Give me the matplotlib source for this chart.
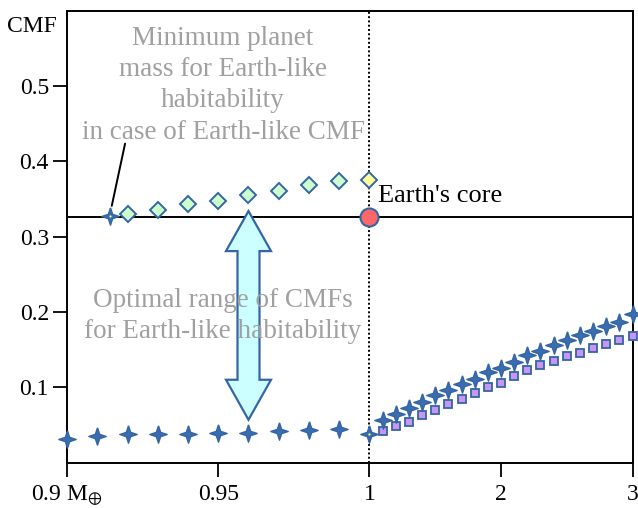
import numpy as np
import matplotlib
matplotlib.use("Agg")
import matplotlib.pyplot as plt
from matplotlib.patches import Polygon
from matplotlib.transforms import IdentityTransform

plt.rcParams['font.family'] = ['Liberation Serif', 'DejaVu Serif']
plt.rcParams['mathtext.fontset'] = 'stix'

# ---------------- data ----------------
low_mass = [0.90, 0.91, 0.92, 0.93, 0.94, 0.95, 0.96, 0.97, 0.98, 0.99, 1.00]
low_star_cmf = [0.031, 0.036, 0.038, 0.038, 0.038, 0.039, 0.040, 0.042, 0.043, 0.045, 0.038]

diamond_mass = [0.92, 0.93, 0.94, 0.95, 0.96, 0.97, 0.98, 0.99]
diamond_cmf = [0.330, 0.336, 0.343, 0.348, 0.355, 0.361, 0.368, 0.374]
earth_diamond_mass = [1.00]
earth_diamond_cmf = [0.375]

min_mass_point = [0.9142]
min_mass_cmf = [0.327]

high_mass = [1.1, 1.2, 1.3, 1.4, 1.5, 1.6, 1.7, 1.8, 1.9, 2.0,
             2.1, 2.2, 2.3, 2.4, 2.5, 2.6, 2.7, 2.8, 2.9, 3.0]
high_star_cmf = [0.057, 0.065, 0.073, 0.081, 0.090, 0.097, 0.104, 0.111, 0.121, 0.126,
                 0.134, 0.143, 0.148, 0.156, 0.163, 0.169, 0.175, 0.181, 0.187, 0.197]
high_square_cmf = [0.042, 0.049, 0.054, 0.063, 0.070, 0.078, 0.085, 0.093, 0.100, 0.106,
                   0.115, 0.123, 0.130, 0.135, 0.141, 0.146, 0.152, 0.157, 0.163, 0.168]

earth_mass = 1.0
earth_core_cmf = 0.326

arrow_mass = 0.96
arrow_top = 0.334
arrow_bottom = 0.057

xticks = [0.9, 0.95, 1, 2, 3]
xticklabels = ['0.9 M$_{\\oplus}$', '0.95', '1', '2', '3']
yticks = [0.1, 0.2, 0.3, 0.4, 0.5]
yticklabels = ['0.1', '0.2', '0.3', '0.4', '0.5']

# ---------------- styling ----------------
BLUE = '#3465a4'
STAR_FILL = '#3a6cb0'
GRAY = '#a0a0a0'

W, H = 638, 508
fig = plt.figure(figsize=(W / 100, H / 100), dpi=100)
ax = fig.add_axes([67 / W, 1 - 462.7 / H, (632.5 - 67) / W, (462.7 - 10.7) / H])

L_SEG, R_SEG = 302.5, 131.5


def fwd(x):
    x = np.asarray(x, dtype=float)
    return np.where(x <= 1, (x - 0.9) / 0.1 * L_SEG, L_SEG + (x - 1) * R_SEG)


def inv(u):
    u = np.asarray(u, dtype=float)
    return np.where(u <= L_SEG, 0.9 + u / L_SEG * 0.1, 1 + (u - L_SEG) / R_SEG)


ax.set_xscale('function', functions=(fwd, inv))
ax.set_xlim(0.9, 3)
ax.set_ylim(0, 0.6)

r = 0.25
star = [(0, 1), (r, r), (1, 0), (r, -r), (0, -1), (-r, -r), (-1, 0), (-r, r), (0, 1)]

# reference lines
ax.axhline(earth_core_cmf, color='black', lw=1.4, zorder=2)
ax.axvline(earth_mass, color='black', lw=1.4, ls=(0, (1, 1.2)), zorder=2)

# arrow (built after limits are fixed)
fig.canvas.draw()
xc, yt = ax.transData.transform((arrow_mass, arrow_top))
_, yb = ax.transData.transform((arrow_mass, arrow_bottom))
hw, sw, hl = 22.5, 11, 40
verts = [(xc, yt), (xc + hw, yt - hl), (xc + sw, yt - hl), (xc + sw, yb + hl), (xc + hw, yb + hl),
         (xc, yb), (xc - hw, yb + hl), (xc - sw, yb + hl), (xc - sw, yt - hl), (xc - hw, yt - hl)]
arr = Polygon(verts, closed=True, facecolor='#ccffff', edgecolor=BLUE, lw=1.6,
              transform=IdentityTransform(), zorder=3, clip_on=False)
ax.add_artist(arr)

# markers
ax.plot(low_mass, low_star_cmf, ls='none', marker=star, ms=12.5, mfc=STAR_FILL, mec=BLUE,
        mew=1.0, zorder=5, clip_on=False)
ax.plot(high_mass, high_star_cmf, ls='none', marker=star, ms=12.5, mfc=STAR_FILL, mec=BLUE,
        mew=1.0, zorder=5, clip_on=False)
ax.plot(high_mass, high_square_cmf, ls='none', marker='s', ms=6, mfc='#c896f0', mec=BLUE,
        mew=1.3, zorder=4, clip_on=False)
ax.plot(diamond_mass, diamond_cmf, ls='none', marker='D', ms=8, mfc='#ccffcc', mec=BLUE,
        mew=1.4, zorder=5)
ax.plot(earth_diamond_mass, earth_diamond_cmf, ls='none', marker='D', ms=8, mfc='#ffff99',
        mec=BLUE, mew=1.4, zorder=5)
ax.plot(min_mass_point, min_mass_cmf, ls='none', marker=star, ms=12.5, mfc=STAR_FILL, mec=BLUE,
        mew=1.0, zorder=5)
ax.plot(min_mass_point + [earth_mass], min_mass_cmf + [low_star_cmf[-1]], ls='none', marker='o',
        ms=1.6, mfc='#ffff66', mec='none', zorder=6)
ax.plot([earth_mass], [earth_core_cmf], ls='none', marker='o', ms=13, mfc='#ff6666', mec=BLUE,
        mew=1.5, zorder=6)

# annotations
ax.annotate('', xy=(min_mass_point[0] + 0.0006, min_mass_cmf[0] + 0.014),
            xytext=(0.9192, 0.4236),
            arrowprops=dict(arrowstyle='-', color='black', lw=1.4, shrinkA=0, shrinkB=0))
ax.text(0.9516, 0.501, 'Minimum planet\nmass for Earth-like\nhabitability\nin case of Earth-like CMF',
        ha='center', va='center', fontsize=19.5, color=GRAY, linespacing=1.33, zorder=7)
ax.text(0.9515, 0.195, 'Optimal range of CMFs\nfor Earth-like habitability',
        ha='center', va='center', fontsize=19.5, color=GRAY, linespacing=1.33, zorder=7)
ax.annotate("Earth's core", xy=(earth_mass, earth_core_cmf), xytext=(9, 21),
            textcoords='offset pixels', ha='left', va='center', fontsize=19, color='black', zorder=7)

# axes
for s in ax.spines.values():
    s.set_linewidth(1.4)
    s.set_color('black')
ax.set_xticks(xticks)
ax.set_xticklabels(xticklabels)
ax.set_yticks(yticks)
ax.set_yticklabels(yticklabels)
ax.minorticks_off()
ax.tick_params(axis='both', direction='out', length=10, width=1.3, labelsize=17, colors='black')
ax.tick_params(axis='x', pad=5)
ax.tick_params(axis='y', pad=3)
fig.text(32 / W, 1 - 27 / H, 'CMF', ha='center', va='center', fontsize=17)

fig.savefig('out.png', dpi=100)
